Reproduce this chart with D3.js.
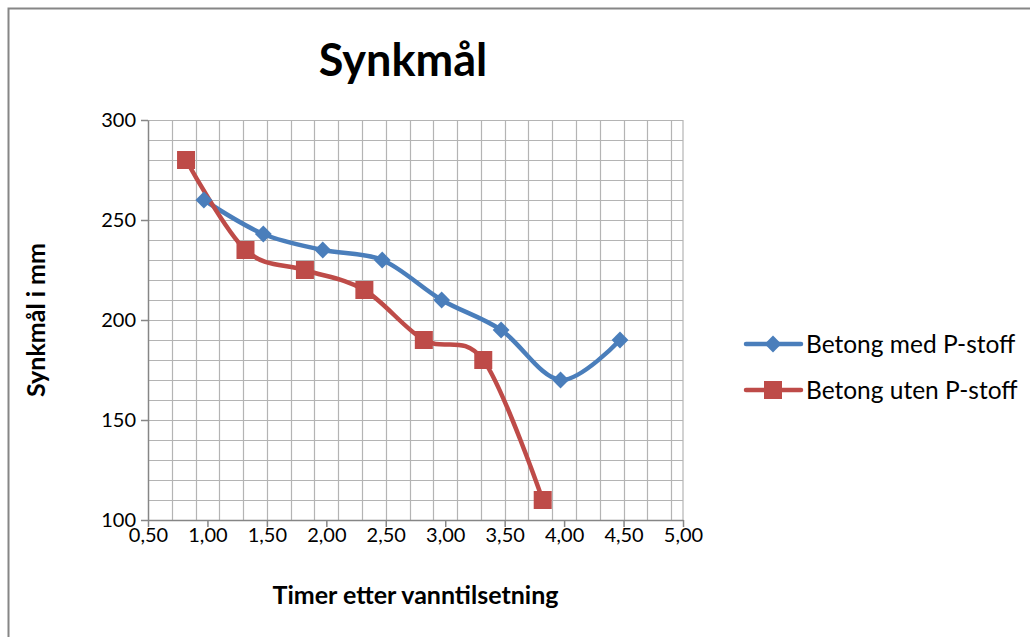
<!DOCTYPE html>
<html>
<head>
<meta charset="utf-8">
<script src="https://cdn.jsdelivr.net/npm/d3@7"></script>
<style>
  body { margin: 0; background: #fff; }
  svg { display: block; font-family: Lato, "Open Sans", sans-serif; }
</style>
</head>
<body>
<svg id="chart" width="1030" height="637"></svg>
<script>
// data
var medX = [0.97, 1.47, 1.97, 2.47, 2.97, 3.47, 3.97, 4.47],
    medY = [260, 243, 235, 230, 210, 195, 170, 190],
    utenX = [0.82, 1.32, 1.82, 2.32, 2.82, 3.32, 3.82],
    utenY = [280, 235, 225, 215, 190, 180, 110];

var seriesNames = ["Betong med P-stoff", "Betong uten P-stoff"],
    seriesColors = ["#4a7ebb", "#be4b48"],
    xTicks = [0.5, 1, 1.5, 2, 2.5, 3, 3.5, 4, 4.5, 5],
    yTicks = [100, 150, 200, 250, 300];

var margin = { top: 120, left: 148, right: 347, bottom: 117 },
    W = 1030, H = 637,
    width = W - margin.left - margin.right,
    height = H - margin.top - margin.bottom;

var svg = d3.select('#chart');

// outer chart frame (cut at the right / bottom edge like the screenshot)
svg.append('rect')
    .attr('x', 8.5).attr('y', 8.5)
    .attr('width', 1040).attr('height', 660)
    .style('fill', 'none')
    .style('stroke', '#868686')
    .style('stroke-width', 2);

var x = d3.scaleLinear().domain([0.5, 5]).range([0, width]),
    y = d3.scaleLinear().domain([100, 300]).range([height, 0]);

var g = svg.append('g')
    .attr('transform', 'translate(' + margin.left + ',' + margin.top + ')');

// grid: verticals every 0.2 from 0.5, horizontals every 10
var vGrid = d3.range(0.7, 4.95, 0.2),
    hGrid = d3.range(110, 300.5, 10);

g.selectAll('.vgrid').data(vGrid).enter().append('line')
    .attr('class', 'vgrid')
    .attr('x1', d => Math.round(x(d)) + 0.5).attr('x2', d => Math.round(x(d)) + 0.5)
    .attr('y1', 0).attr('y2', height)
    .style('stroke', '#b4b4b4').style('stroke-width', 1.2);

g.selectAll('.hgrid').data(hGrid).enter().append('line')
    .attr('class', 'hgrid')
    .attr('x1', 0).attr('x2', width)
    .attr('y1', d => Math.round(y(d)) + 0.5).attr('y2', d => Math.round(y(d)) + 0.5)
    .style('stroke', '#b4b4b4').style('stroke-width', 1.2);

// right border of plot at 5,00
g.append('line')
    .attr('x1', x(5)).attr('x2', x(5)).attr('y1', 0).attr('y2', height)
    .style('stroke', '#b4b4b4').style('stroke-width', 1.2);

// axes
var fmt = d => d.toFixed(2).replace('.', ',');

var xAxis = g.append('g')
    .attr('transform', 'translate(0,' + height + ')')
    .call(d3.axisBottom(x).tickValues(xTicks).tickFormat(fmt).tickSizeInner(7).tickSizeOuter(0));

var yAxis = g.append('g')
    .call(d3.axisLeft(y).tickValues(yTicks).tickSizeInner(7).tickSizeOuter(0));

[xAxis, yAxis].forEach(a => {
    a.select('.domain').style('stroke', '#868686').style('stroke-width', 1.5);
    a.selectAll('.tick line').style('stroke', '#868686').style('stroke-width', 1.5);
    a.selectAll('.tick text')
        .style('font-size', '20px')
        .style('font-family', 'Lato, "Open Sans", sans-serif')
        .style('fill', '#000');
});
xAxis.selectAll('.tick text').attr('y', 22).attr('dy', null);
yAxis.selectAll('.tick text').attr('x', -12).attr('dy', '0.32em');

// lines
var line = d3.line()
    .x(d => x(d[0]))
    .y(d => y(d[1]))
    .curve(d3.curveCardinal.tension(0));

var series = [
    d3.zip(medX, medY),
    d3.zip(utenX, utenY)
];

g.selectAll('.line').data(series).enter().append('path')
    .attr('class', 'line')
    .attr('d', line)
    .style('fill', 'none')
    .style('stroke', (d, i) => seriesColors[i])
    .style('stroke-width', 4.5)
    .style('stroke-linejoin', 'round');

// markers
function marker(sel, i, size) {
    if (i === 0) {
        sel.append('path')
            .attr('d', d3.symbol().type(d3.symbolDiamond2).size(size * size * 0.5)())
            .style('fill', seriesColors[0]);
    } else {
        sel.append('rect')
            .attr('x', -size / 2).attr('y', -size / 2)
            .attr('width', size).attr('height', size)
            .style('fill', seriesColors[1]);
    }
}

series.forEach((s, i) => {
    g.selectAll('.m' + i).data(s).enter().append('g')
        .attr('class', 'm' + i)
        .attr('transform', d => 'translate(' + x(d[0]) + ',' + y(d[1]) + ')')
        .each(function() { marker(d3.select(this), i, i === 0 ? 19 : 18); });
});

// title
svg.append('text')
    .attr('x', 403).attr('y', 76)
    .attr('text-anchor', 'middle')
    .style('font-size', '45px').style('font-weight', 'bold')
    .text('Synkmål');

// axis titles
svg.append('text')
    .attr('x', margin.left + width / 2).attr('y', 604)
    .attr('text-anchor', 'middle')
    .style('font-size', '25px').style('font-weight', 'bold')
    .text('Timer etter vanntilsetning');

svg.append('text')
    .attr('transform', 'translate(45,320) rotate(-90)')
    .attr('text-anchor', 'middle')
    .style('font-size', '25px').style('font-weight', 'bold')
    .text('Synkmål i mm');

// legend
var legend = svg.append('g').attr('transform', 'translate(746,344)');
seriesNames.forEach((name, i) => {
    var row = legend.append('g').attr('transform', 'translate(0,' + (i * 46) + ')');
    row.append('line')
        .attr('x1', 0).attr('x2', 55).attr('y1', 0).attr('y2', 0)
        .style('stroke', seriesColors[i]).style('stroke-width', 4.5)
        .style('stroke-linecap', 'round');
    var m = row.append('g').attr('transform', 'translate(27,0)');
    marker(m, i, i === 0 ? 19 : 18);
    row.append('text')
        .attr('x', 60).attr('y', 0).attr('dy', '0.36em')
        .style('font-size', '24.5px')
        .text(name);
});
</script>
</body>
</html>
